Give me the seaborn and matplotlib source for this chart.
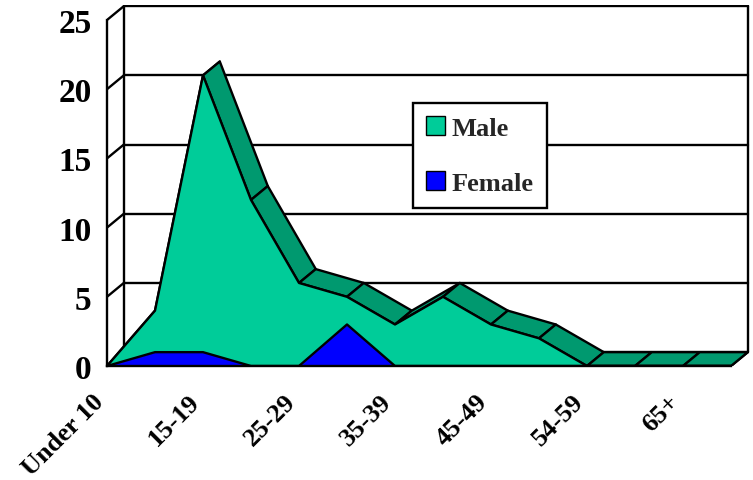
import numpy as np
import pandas as pd
import matplotlib
matplotlib.use("Agg")
import matplotlib.pyplot as plt
import matplotlib.transforms as mtransforms
import seaborn as sns
from matplotlib.patches import Polygon, Patch

categories = ["Under 10", "10-14", "15-19", "20-24", "25-29", "30-34", "35-39",
              "40-44", "45-49", "50-54", "54-59", "60-64", "65+", "Unknown"]
male = [0, 4, 21, 12, 6, 5, 3, 5, 3, 2, 0, 0, 0, 0]
female = [0, 1, 1, 0, 0, 3, 0, 0, 0, 0, 0, 0, 0, 0]
y_ticks = [0, 5, 10, 15, 20, 25]
shown_labels = [c if i % 2 == 0 else "" for i, c in enumerate(categories)]

MALE_FRONT = "#00CC99"
MALE_TOP = "#00996F"
FEMALE = "#0000FF"
LW = 1.7

sns.set_style("white")
plt.rcParams["font.family"] = ["Liberation Serif", "DejaVu Serif"]
plt.rcParams["font.weight"] = "bold"

n = len(categories)
df = pd.DataFrame({"x": np.arange(n), "cat": categories, "Male": male, "Female": female})

fig = plt.figure(figsize=(7.53, 4.81), dpi=100)
xmax, ymax = 13.4, 26.1
ax = fig.add_axes([107 / 753, (481 - 367) / 481, xmax * 48 / 753, ymax * 13.84 / 481])
ax.set_xlim(0, xmax)
ax.set_ylim(0, ymax)

ddx, ddy = 0.35, 1.0
last = n - 1
top = y_ticks[-1]

# back wall, gridlines and left wall diagonals
for v in y_ticks:
    ax.plot([ddx, last + ddx], [v + ddy, v + ddy], color="black", lw=LW, zorder=1)
    ax.plot([0, ddx], [v, v + ddy], color="black", lw=LW, zorder=1)
ax.plot([ddx, ddx], [ddy, top + ddy], color="black", lw=LW, zorder=1)
ax.plot([last + ddx, last + ddx], [ddy, top + ddy], color="black", lw=LW, zorder=1)
ax.plot([last, last + ddx], [0, ddy], color="black", lw=LW, zorder=1)

# top ribbon of the male area
for i in range(n - 1):
    pts = [(i, male[i]), (i + 1, male[i + 1]),
           (i + 1 + ddx, male[i + 1] + ddy), (i + ddx, male[i] + ddy)]
    ax.add_patch(Polygon(pts, closed=True, facecolor=MALE_TOP, edgecolor="black",
                         lw=LW, zorder=2, joinstyle="round"))

# front faces
ax.fill_between(df["x"], df["Male"], 0, color=MALE_FRONT, lw=0, zorder=3)
sns.lineplot(data=df, x="x", y="Male", color="black", lw=LW, zorder=4, ax=ax)
ax.fill_between(df["x"], df["Female"], 0, color=FEMALE, lw=0, zorder=5)
sns.lineplot(data=df, x="x", y="Female", color="black", lw=LW, zorder=6, ax=ax)

ax.set_xlabel("")
ax.set_ylabel("")
for s in ["top", "right"]:
    ax.spines[s].set_visible(False)
ax.spines["left"].set_bounds(0, top)
ax.spines["bottom"].set_bounds(0, last)
for s in ["left", "bottom"]:
    ax.spines[s].set_linewidth(LW)
    ax.spines[s].set_color("black")
    ax.spines[s].set_zorder(7)

ax.set_yticks(y_ticks)
ax.set_yticklabels([str(v) for v in y_ticks], fontsize=24, fontweight="bold")
ax.tick_params(axis="y", direction="out", length=8, width=LW, pad=3, colors="black")
ax.set_xticks(df["x"])
ax.set_xticklabels(shown_labels, rotation=45, ha="right", va="center",
                   rotation_mode="anchor", fontsize=19, fontweight="bold")
ax.tick_params(axis="x", direction="out", length=6, width=LW, pad=17, colors="black")
shift = mtransforms.ScaledTranslation(-7 / 100, 0, fig.dpi_scale_trans)
for lbl in ax.get_xticklabels():
    lbl.set_transform(lbl.get_transform() + shift)

handles = [Patch(facecolor=MALE_FRONT, edgecolor="black", label="Male"),
           Patch(facecolor=FEMALE, edgecolor="black", label="Female")]
leg = ax.legend(handles=handles, loc="upper left", bbox_to_anchor=(0.476, 0.728),
                frameon=True, fancybox=False, edgecolor="black", framealpha=1,
                prop={"size": 19, "weight": "bold"}, handlelength=0.7, handleheight=0.7,
                labelspacing=1.2, borderpad=0.5, handletextpad=0.25, borderaxespad=0)
leg.get_frame().set_linewidth(LW)
leg.set_zorder(10)

fig.savefig("out.png", dpi=100)
